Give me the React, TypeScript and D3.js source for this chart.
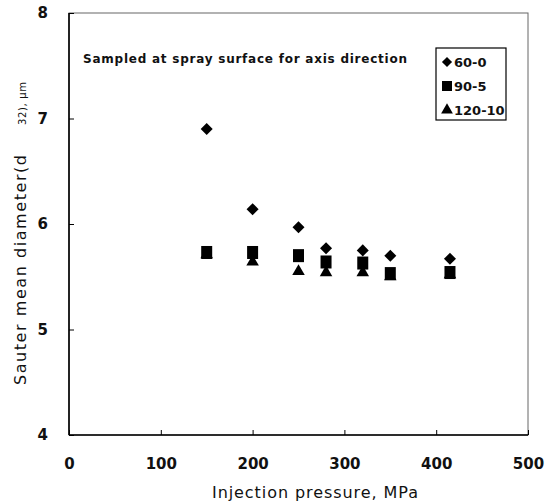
import * as d3 from "d3";
import React, { useRef, useEffect } from "react";

const pressures = [150, 200, 250, 280, 320, 350, 415];
const series60 = [6.9, 6.14, 5.97, 5.77, 5.75, 5.7, 5.67];
const series90 = [5.73, 5.73, 5.7, 5.64, 5.63, 5.53, 5.54];
const series120 = [5.71, 5.64, 5.55, 5.54, 5.54, 5.5, 5.52];
const seriesNames = ["60-0", "90-5", "120-10"];
const xTicks = [0, 100, 200, 300, 400, 500];
const yTicks = [4, 5, 6, 7, 8];

function App() {
    const ref = useRef(null);
    const width = 546;
    const height = 503;
    const margin = { top: 13, right: 18, bottom: 68, left: 69 };

    useEffect(() => {
        const svg = d3.select(ref.current);
        svg.selectAll("*").remove();
        const font = "'DejaVu Sans', 'Liberation Sans', sans-serif";

        const x = d3.scaleLinear().domain([0, 500]).range([margin.left, width - margin.right]);
        const y = d3.scaleLinear().domain([4, 8]).range([height - margin.bottom, margin.top]);

        // frame
        svg.append("rect")
            .attr("x", x(0))
            .attr("y", y(8))
            .attr("width", x(500) - x(0))
            .attr("height", y(4) - y(8))
            .attr("fill", "none")
            .attr("stroke", "#666")
            .attr("stroke-width", 1);
        svg.append("line")
            .attr("x1", x(0)).attr("x2", x(500))
            .attr("y1", y(4)).attr("y2", y(4))
            .attr("stroke", "#000").attr("stroke-width", 1.6);
        svg.append("line")
            .attr("x1", x(0)).attr("x2", x(0))
            .attr("y1", y(4)).attr("y2", y(8))
            .attr("stroke", "#000").attr("stroke-width", 1.6);

        // ticks inward
        const xAxis = svg.append("g")
            .attr("transform", `translate(0, ${y(4)})`)
            .call(d3.axisBottom(x).tickValues(xTicks).tickSize(-5).tickPadding(23));
        xAxis.select(".domain").remove();
        xAxis.selectAll("text")
            .attr("font-family", font)
            .attr("font-weight", "bold")
            .attr("font-size", 15)
            .attr("fill", "#111");

        const yAxis = svg.append("g")
            .attr("transform", `translate(${x(0)}, 0)`)
            .call(d3.axisLeft(y).tickValues(yTicks).tickFormat(d3.format("d")).tickSize(-5).tickPadding(21));
        yAxis.select(".domain").remove();
        yAxis.selectAll("text")
            .attr("font-family", font)
            .attr("font-weight", "bold")
            .attr("font-size", 15)
            .attr("fill", "#111");

        // axis titles
        svg.append("text")
            .attr("x", 212)
            .attr("y", 498)
            .attr("font-family", font)
            .attr("font-size", 16)
            .attr("textLength", 206)
            .attr("lengthAdjust", "spacing")
            .attr("fill", "#111")
            .text("Injection pressure, MPa");

        svg.append("text")
            .attr("transform", `translate(26, 385) rotate(-90)`)
            .attr("font-family", font)
            .attr("font-size", 16)
            .attr("textLength", 230)
            .attr("lengthAdjust", "spacing")
            .attr("fill", "#111")
            .text("Sauter mean diameter(d");
        svg.append("text")
            .attr("transform", `translate(26, 125) rotate(-90)`)
            .attr("font-family", font)
            .attr("font-size", 10)
            .attr("textLength", 43)
            .attr("lengthAdjust", "spacing")
            .attr("fill", "#111")
            .text("32), μm");

        // annotation
        svg.append("text")
            .attr("x", 83)
            .attr("y", 63)
            .attr("font-family", font)
            .attr("font-weight", "bold")
            .attr("font-size", 12)
            .attr("textLength", 324)
            .attr("lengthAdjust", "spacing")
            .attr("fill", "#111")
            .text("Sampled at spray surface for axis direction");

        const diamond = d3.symbol().type(d3.symbolDiamond2).size(92);
        const triangle = d3.symbol().type(d3.symbolTriangle).size(68);

        const draw = (vals: number[], kind: string) => {
            const g = svg.append("g");
            vals.forEach((v, i) => {
                const cx = x(pressures[i]);
                const cy = y(v);
                if (kind === "square") {
                    g.append("rect")
                        .attr("x", cx - 5.5).attr("y", cy - 6.5)
                        .attr("width", 11).attr("height", 13)
                        .attr("fill", "#000");
                } else {
                    g.append("path")
                        .attr("transform", `translate(${cx}, ${cy})`)
                        .attr("d", kind === "diamond" ? diamond() : triangle())
                        .attr("fill", "#000");
                }
            });
        };
        draw(series120, "triangle");
        draw(series90, "square");
        draw(series60, "diamond");

        // legend
        const lx = 436;
        const ly = 48;
        svg.append("rect")
            .attr("x", lx).attr("y", ly)
            .attr("width", 70).attr("height", 72)
            .attr("fill", "#fff")
            .attr("stroke", "#000")
            .attr("stroke-width", 1.2);
        const kinds = ["diamond", "square", "triangle"];
        seriesNames.forEach((name, i) => {
            const cy = ly + 14 + i * 24;
            const sx = lx + 11;
            if (kinds[i] === "square") {
                svg.append("rect")
                    .attr("x", sx - 5).attr("y", cy - 5)
                    .attr("width", 10).attr("height", 10)
                    .attr("fill", "#000");
            } else {
                svg.append("path")
                    .attr("transform", `translate(${sx}, ${cy})`)
                    .attr("d", kinds[i] === "diamond" ? d3.symbol().type(d3.symbolDiamond2).size(65)() : d3.symbol().type(d3.symbolTriangle).size(60)())
                    .attr("fill", "#000");
            }
            svg.append("text")
                .attr("x", sx + 7)
                .attr("y", cy + 5)
                .attr("font-family", font)
                .attr("font-weight", "bold")
                .attr("font-size", 13)
                .attr("fill", "#111")
                .text(name);
        });
    }, []);

    return (
        <svg
            ref={ref}
            width={width}
            height={height}
            style={{ position: "absolute", left: 0, top: 0, background: "#fff" }}
        ></svg>
    );
}

export default App;
